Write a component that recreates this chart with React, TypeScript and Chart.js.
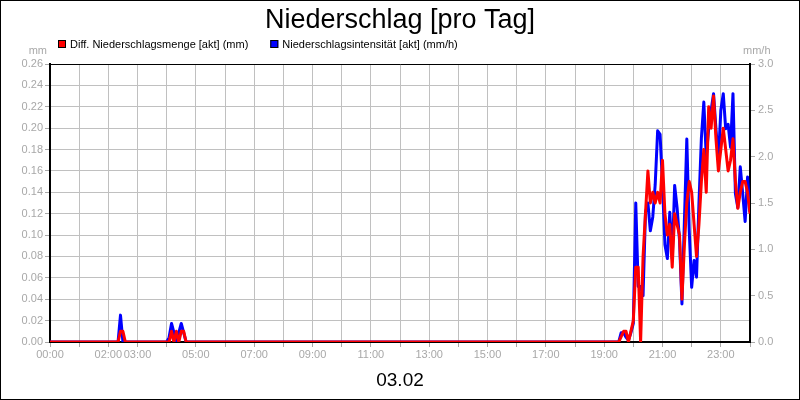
import { useEffect, useRef } from 'react';
import { Chart, registerables } from 'chart.js';
import type { Plugin } from 'chart.js';

Chart.register(...registerables);

const FONT = '"Liberation Sans", Arial, Helvetica, sans-serif';
const TICK_GREY = '#a8a8a8';
const GRID_GREY = '#c0c0c0';

const chartTitle = 'Niederschlag [pro Tag]';
const dateLabel = '03.02';
const leftUnit = 'mm';
const rightUnit = 'mm/h';

// 5-minute readings; everything not listed is 0
const times = [
  '00:00', '02:20', '02:25', '02:30', '02:35',
  '04:00', '04:05', '04:10', '04:15', '04:20', '04:25', '04:30', '04:35', '04:40',
  '19:30', '19:35', '19:40', '19:45', '19:50', '19:55',
  '20:00', '20:05', '20:10', '20:15', '20:20', '20:25', '20:30', '20:35', '20:40', '20:45', '20:50', '20:55',
  '21:00', '21:05', '21:10', '21:15', '21:20', '21:25', '21:30', '21:35', '21:40', '21:45', '21:50', '21:55',
  '22:00', '22:05', '22:10', '22:15', '22:20', '22:25', '22:30', '22:35', '22:40', '22:45', '22:50', '22:55',
  '23:00', '23:05', '23:10', '23:15', '23:20', '23:25', '23:30', '23:35', '23:40', '23:45', '23:50', '23:55',
  '24:00',
];

const mengeMm = [
  0, 0, 0.01, 0.01, 0,
  0, 0, 0.01, 0, 0.01, 0, 0.01, 0.01, 0,
  0, 0.005, 0.01, 0.01, 0, 0.01,
  0.02, 0.07, 0.07, 0, 0.08, 0.12, 0.16, 0.13, 0.14, 0.13, 0.14, 0.13,
  0.17, 0.12, 0.1, 0.11, 0.07, 0.12, 0.11, 0.1, 0.04, 0.09, 0.13, 0.15,
  0.14, 0.11, 0.08, 0.11, 0.15, 0.18, 0.14, 0.22, 0.2, 0.23, 0.19, 0.16,
  0.18, 0.2, 0.18, 0.16, 0.17, 0.19, 0.15, 0.125, 0.14, 0.15, 0.15, 0.14,
  0.12,
];

const intensitaetMmH = [
  0, 0, 0.29, 0, 0,
  0, 0.05, 0.2, 0.1, 0, 0.1, 0.2, 0.1, 0,
  0, 0.1, 0.1, 0.05, 0.02, 0.1,
  0.2, 1.5, 0.6, 0.6, 0.5, 1.4, 1.5, 1.2, 1.35, 1.7, 2.28, 2.24,
  1.7, 1.05, 0.9, 1.4, 0.9, 1.69, 1.45, 1.1, 0.41, 1.3, 2.19, 1.2,
  0.59, 0.88, 0.7, 1.5, 2.2, 2.59, 2.0, 2.3, 2.5, 2.68, 2.3, 1.96,
  2.5, 2.68, 2.3, 2.35, 2.1, 2.68, 1.6, 1.45, 1.89, 1.6, 1.3, 1.78,
  1.4,
];

const hourLabels = [
  '00:00', '', '02:00', '03:00', '', '05:00', '', '07:00', '', '09:00', '', '11:00', '',
  '13:00', '', '15:00', '', '17:00', '', '19:00', '', '21:00', '', '23:00', '',
];

function toMinutes(t: string) {
  const [h, m] = t.split(':').map(Number);
  return h * 60 + m;
}

// title, legend, unit captions and the outer frame
const chartDecor: Plugin<'line'> = {
  id: 'chartDecor',
  afterDraw(chart) {
    const { ctx, width, height } = chart;
    ctx.save();

    ctx.strokeStyle = '#000';
    ctx.lineWidth = 1;
    ctx.strokeRect(0.5, 0.5, width - 1, height - 1);

    ctx.fillStyle = '#000';
    ctx.font = `27px ${FONT}`;
    ctx.textAlign = 'center';
    ctx.textBaseline = 'alphabetic';
    ctx.fillText(chartTitle, width / 2, 28);

    ctx.font = `11px ${FONT}`;
    ctx.textAlign = 'left';
    ctx.textBaseline = 'middle';
    let x = 58;
    chart.data.datasets.forEach((ds) => {
      ctx.fillStyle = ds.borderColor as string;
      ctx.fillRect(x, 40, 8, 8);
      ctx.strokeStyle = '#000';
      ctx.strokeRect(x + 0.5, 40.5, 7, 7);
      ctx.fillStyle = '#000';
      const label = ds.label ?? '';
      ctx.fillText(label, x + 12, 44.5);
      x += 12 + ctx.measureText(label).width + 22;
    });

    ctx.fillStyle = TICK_GREY;
    ctx.textBaseline = 'alphabetic';
    ctx.textAlign = 'right';
    ctx.fillText(leftUnit, 47, 54);
    ctx.textAlign = 'left';
    ctx.fillText(rightUnit, 743, 54);

    ctx.restore();
  },
};

export default function App() {
  const canvasRef = useRef<HTMLCanvasElement>(null);
  const chartRef = useRef<Chart | null>(null);

  useEffect(() => {
    document.body.style.margin = '0';
    if (!canvasRef.current) return;
    if (chartRef.current) chartRef.current.destroy();

    const minutes = times.map(toMinutes);

    chartRef.current = new Chart(canvasRef.current, {
      type: 'line',
      data: {
        datasets: [
          {
            label: 'Diff. Niederschlagsmenge [akt] (mm)',
            data: minutes.map((m, i) => ({ x: m, y: mengeMm[i] })),
            borderColor: '#ff0000',
            backgroundColor: '#ff0000',
            borderWidth: 3,
            borderJoinStyle: 'round',
            pointRadius: 0,
            tension: 0,
            yAxisID: 'y',
          },
          {
            label: 'Niederschlagsintensität [akt] (mm/h)',
            data: minutes.map((m, i) => ({ x: m, y: intensitaetMmH[i] })),
            borderColor: '#0000ff',
            backgroundColor: '#0000ff',
            borderWidth: 3,
            borderJoinStyle: 'round',
            pointRadius: 0,
            tension: 0,
            yAxisID: 'y1',
          },
        ],
      },
      options: {
        responsive: false,
        animation: false,
        layout: { padding: { top: 64, left: 0, right: 0, bottom: 0 } },
        plugins: {
          legend: { display: false },
          title: { display: false },
          tooltip: { enabled: false },
        },
        scales: {
          x: {
            type: 'linear',
            min: 0,
            max: 1440,
            afterFit: (scale) => {
              scale.height = 58;
            },
            ticks: {
              stepSize: 60,
              autoSkip: false,
              maxRotation: 0,
              padding: 1,
              color: TICK_GREY,
              font: { family: FONT, size: 11 },
              callback: (value) => hourLabels[Math.round(Number(value) / 60)] ?? '',
            },
            grid: { color: GRID_GREY, tickColor: TICK_GREY, tickLength: 5 },
            border: { color: '#000', width: 2 },
            title: {
              display: true,
              text: dateLabel,
              color: '#000',
              font: { family: FONT, size: 19 },
              padding: { top: 0, bottom: 8 },
            },
          },
          y: {
            position: 'left',
            min: 0,
            max: 0.26,
            afterFit: (scale) => {
              scale.width = 50;
            },
            ticks: {
              stepSize: 0.02,
              padding: 2,
              color: TICK_GREY,
              font: { family: FONT, size: 11 },
              callback: (value) => Number(value).toFixed(2),
            },
            grid: {
              color: (c) => (c.tick && c.tick.value > 0.259 ? '#000' : GRID_GREY),
              tickColor: TICK_GREY,
              tickLength: 5,
            },
            border: { color: '#000', width: 2 },
          },
          y1: {
            position: 'right',
            min: 0,
            max: 3,
            afterFit: (scale) => {
              scale.width = 50;
            },
            ticks: {
              stepSize: 0.5,
              padding: 3,
              color: TICK_GREY,
              font: { family: FONT, size: 11 },
              callback: (value) => Number(value).toFixed(1),
            },
            grid: { drawOnChartArea: false, tickColor: TICK_GREY, tickLength: 5 },
            border: { color: '#000', width: 2 },
          },
        },
      },
      plugins: [chartDecor],
    });

    return () => {
      if (chartRef.current) {
        chartRef.current.destroy();
        chartRef.current = null;
      }
    };
  }, []);

  return (
    <div style={{ width: 800, height: 400, background: '#fff' }}>
      <canvas ref={canvasRef} width={800} height={400} style={{ display: 'block' }}></canvas>
    </div>
  );
}
